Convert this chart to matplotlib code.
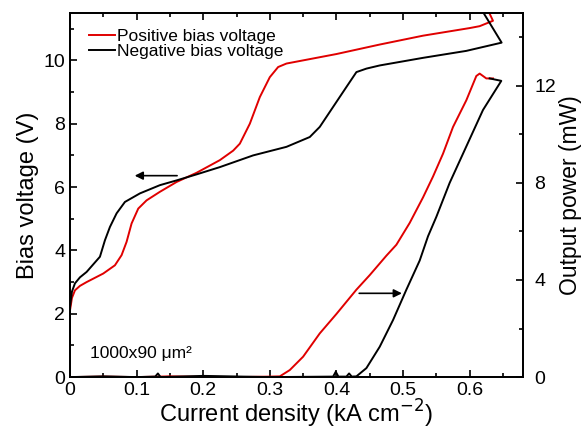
import matplotlib.pyplot as plt
from matplotlib.ticker import MultipleLocator

plt.rcParams['font.family'] = ['Liberation Sans', 'DejaVu Sans']

# Bias voltage vs current density (left axis)
j_pos_v = [0, 0, 0.003, 0.0075, 0.015, 0.025, 0.05, 0.0675, 0.0775, 0.085, 0.0925,
           0.1025, 0.115, 0.135, 0.16, 0.19, 0.225, 0.245, 0.255, 0.27, 0.285, 0.30,
           0.3125, 0.325, 0.34, 0.40, 0.465, 0.53, 0.60, 0.615, 0.635, 0.625]
v_pos = [1.15, 2.1, 2.5, 2.74, 2.88, 3.0, 3.27, 3.53, 3.85, 4.27, 4.85,
         5.32, 5.58, 5.85, 6.16, 6.45, 6.85, 7.15, 7.37, 8.0, 8.84, 9.47,
         9.79, 9.9, 9.96, 10.2, 10.5, 10.78, 11.02, 11.08, 11.25, 11.7]

j_neg_v = [0, 0, 0.003, 0.0075, 0.015, 0.025, 0.045, 0.0525, 0.06, 0.07, 0.0825, 0.105,
           0.135, 0.16, 0.19, 0.225, 0.275, 0.325, 0.36, 0.375, 0.395, 0.415, 0.43,
           0.445, 0.465, 0.53, 0.595, 0.648, 0.615]
v_neg = [1.1, 2.2, 2.7, 2.96, 3.15, 3.32, 3.8, 4.32, 4.74, 5.17, 5.53, 5.8,
         6.06, 6.21, 6.4, 6.63, 7.0, 7.27, 7.58, 7.9, 8.53, 9.16, 9.63,
         9.74, 9.84, 10.08, 10.3, 10.56, 11.7]

# Output power vs current density (right axis)
j_pos_p = [0, 0.05, 0.1, 0.15, 0.2, 0.25, 0.3, 0.315, 0.33, 0.35, 0.375, 0.40, 0.43,
           0.45, 0.475, 0.49, 0.51, 0.53, 0.545, 0.56, 0.575, 0.595, 0.61, 0.615,
           0.625, 0.635]
p_pos = [0, 0.02, 0, 0.03, 0.01, 0, 0.02, 0.03, 0.29, 0.84, 1.8, 2.6, 3.6,
         4.2, 5.0, 5.45, 6.35, 7.4, 8.26, 9.2, 10.3, 11.4, 12.4, 12.5,
         12.3, 12.3]

j_neg_p = [0, 0.05, 0.1, 0.128, 0.132, 0.136, 0.2, 0.3, 0.395, 0.399, 0.403, 0.415,
           0.419, 0.423, 0.43, 0.445, 0.465, 0.485, 0.505, 0.525, 0.5375, 0.55, 0.57,
           0.595, 0.62, 0.6475, 0.63]
p_neg = [0, 0.03, 0, 0.02, 0.15, 0, 0.05, 0, 0.02, 0.22, 0.02, 0.02,
         0.15, 0.02, 0.03, 0.37, 1.25, 2.35, 3.6, 4.8, 5.8, 6.6, 8.0,
         9.5, 11.0, 12.2, 12.3]

fig = plt.figure(figsize=(5.83, 4.29), dpi=100)
ax = fig.add_axes([0.12, 0.121, 0.777, 0.849])
ax2 = ax.twinx()

ax.plot(j_pos_v, v_pos, color='#e00000', lw=1.4, label='Positive bias voltage')
ax.plot(j_neg_v, v_neg, color='black', lw=1.4, label='Negative bias voltage')
ax2.plot(j_pos_p, p_pos, color='#e00000', lw=1.4)
ax2.plot(j_neg_p, p_neg, color='black', lw=1.4)

ax.set_xlim(0, 0.68)
ax.set_ylim(0, 11.5)
ax2.set_ylim(0, 15)

ax.xaxis.set_major_locator(MultipleLocator(0.1))
ax.xaxis.set_minor_locator(MultipleLocator(0.05))
ax.yaxis.set_major_locator(MultipleLocator(2))
ax.yaxis.set_minor_locator(MultipleLocator(1))
ax2.yaxis.set_major_locator(MultipleLocator(4))
ax2.yaxis.set_minor_locator(MultipleLocator(2))
ax.xaxis.set_major_formatter(lambda x, p: '0' if x == 0 else f'{x:.1f}')

ax.tick_params(which='both', direction='in', top=True, labelsize=14, width=1.2)
ax.tick_params(which='major', length=5)
ax.tick_params(which='minor', length=3)
ax2.tick_params(which='both', direction='in', labelsize=14, width=1.2, pad=8)
ax2.tick_params(which='major', length=5)
ax2.tick_params(which='minor', length=3)
for a in (ax, ax2):
    for s in a.spines.values():
        s.set_linewidth(1.3)

ax.set_xlabel('Current density (kA cm$^{-2}$)', fontsize=17, labelpad=-1)
ax.set_ylabel('Bias voltage (V)', fontsize=17, labelpad=3)
ax2.set_ylabel('Output power (mW)', fontsize=16.5, labelpad=2)

ax.annotate('', xy=(0.093, 6.36), xytext=(0.165, 6.36),
            arrowprops=dict(arrowstyle='-|>', color='black', lw=1.2, mutation_scale=12))
ax2.annotate('', xy=(0.5025, 3.45), xytext=(0.43, 3.45),
             arrowprops=dict(arrowstyle='-|>', color='black', lw=1.2, mutation_scale=12))

ax.text(0.03, 0.6, '1000x90 μm²', fontsize=12.5)

ax.legend(loc='upper left', frameon=False, fontsize=12.5, handlelength=1.5,
          handletextpad=0.1, labelspacing=0.0, borderaxespad=0.2,
          bbox_to_anchor=(0.02, 0.985))

fig.savefig('out.png', dpi=100)
